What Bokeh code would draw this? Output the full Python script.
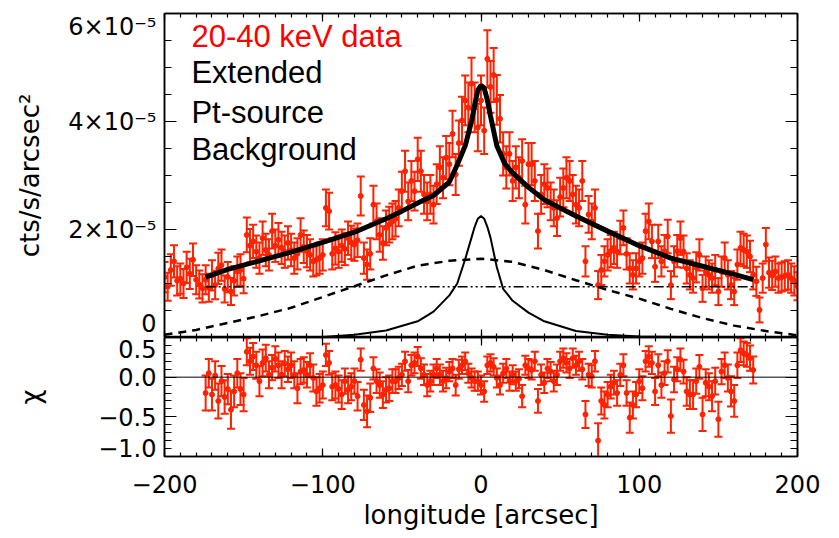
from bokeh.plotting import figure
from bokeh.models import (Range1d, LinearAxis, SingleIntervalTicker, FixedTicker,
                          ColumnDataSource, Whisker, TeeHead, Span, Label,
                          CustomLabelingPolicy)
from bokeh.layouts import column
from bokeh.embed import file_html
from bokeh.resources import INLINE

# ---------------- data ----------------
# longitude bins [arcsec]
lon = list(range(-200, 201, 2))
# surface brightness, units of 1e-5 cts/s/arcsec^2
flux = [1.12, 0.94, 1.25, 1.41, 1.05, 1.09, 1.00, 1.30, 1.18, 1.44,
        1.07, 0.98, 0.91, 1.07, 0.92, 1.15, 0.97, 1.28, 1.34, 0.90,
        1.12, 0.85, 1.05, 1.22, 1.25, 1.09, 1.90, 1.70, 1.78, 1.59,
        1.47, 1.84, 1.62, 1.53, 1.97, 1.70, 1.81, 1.66, 1.59, 1.75,
        1.62, 1.47, 1.55, 1.90, 1.68, 1.60, 1.53, 1.41, 1.44, 1.47,
        1.53, 2.40, 2.34, 1.55, 1.65, 1.59, 1.70, 1.64, 1.84, 1.76,
        1.72, 1.80, 2.62, 1.47, 1.35, 1.55, 2.46, 2.15, 1.90, 1.75,
        2.03, 2.09, 2.15, 2.20, 2.40, 2.71, 3.08, 2.52, 2.90, 2.71,
        3.30, 3.08, 2.65, 2.52, 2.65, 2.46, 2.84, 3.15, 2.96, 3.33,
        3.21, 3.77, 3.02, 3.60, 4.02, 4.39, 4.26, 4.70, 4.26, 3.89,
        4.39, 3.83, 5.16, 4.64, 4.86, 4.40, 4.05, 3.40, 3.15, 3.40,
        2.90, 3.15, 2.96, 3.27, 2.46, 3.21, 3.21, 2.90, 1.97, 2.65,
        2.84, 2.77, 2.52, 2.40, 2.21, 2.60, 2.77, 2.96, 2.90, 2.65,
        2.46, 2.40, 2.90, 1.41, 2.28, 2.15, 2.40, 0.97, 1.25, 1.41,
        1.53, 1.60, 1.66, 1.59, 1.85, 2.03, 1.55, 1.28, 1.16, 1.28,
        1.41, 1.47, 1.97, 2.15, 1.78, 1.31, 1.78, 1.41, 1.60, 1.87,
        0.97, 1.41, 1.60, 1.84, 1.59, 1.28, 1.16, 1.10, 1.30, 1.53,
        0.91, 1.22, 1.16, 1.10, 1.25, 0.85, 1.22, 1.47, 1.16, 0.97,
        0.85, 1.35, 1.66, 1.62, 1.59, 1.50, 1.16, 1.04, 0.51, 1.10,
        1.72, 1.20, 1.15, 1.22, 1.10, 1.12, 1.14, 1.16, 1.10, 1.05,
        0.95]
flux_err = [0.28, 0.26, 0.29, 0.30, 0.27, 0.28, 0.27, 0.29, 0.28, 0.30,
            0.27, 0.26, 0.26, 0.27, 0.26, 0.28, 0.26, 0.29, 0.29, 0.25,
            0.28, 0.25, 0.27, 0.28, 0.29, 0.27, 0.32, 0.31, 0.31, 0.30,
            0.29, 0.31, 0.30, 0.29, 0.32, 0.30, 0.31, 0.30, 0.30, 0.31,
            0.30, 0.29, 0.29, 0.31, 0.30, 0.30, 0.29, 0.28, 0.29, 0.29,
            0.29, 0.34, 0.34, 0.29, 0.30, 0.30, 0.30, 0.30, 0.31, 0.31,
            0.30, 0.31, 0.36, 0.29, 0.28, 0.29, 0.35, 0.33, 0.31, 0.31,
            0.32, 0.33, 0.33, 0.33, 0.34, 0.36, 0.38, 0.35, 0.37, 0.36,
            0.40, 0.38, 0.36, 0.35, 0.36, 0.35, 0.37, 0.39, 0.38, 0.40,
            0.39, 0.43, 0.38, 0.42, 0.44, 0.46, 0.46, 0.48, 0.46, 0.44,
            0.46, 0.43, 0.53, 0.48, 0.50, 0.46, 0.44, 0.40, 0.39, 0.40,
            0.37, 0.39, 0.38, 0.40, 0.35, 0.39, 0.39, 0.37, 0.32, 0.36,
            0.37, 0.36, 0.35, 0.34, 0.33, 0.36, 0.36, 0.38, 0.37, 0.36,
            0.35, 0.34, 0.37, 0.28, 0.34, 0.33, 0.34, 0.26, 0.28, 0.28,
            0.29, 0.30, 0.30, 0.30, 0.31, 0.32, 0.29, 0.28, 0.27, 0.28,
            0.28, 0.29, 0.32, 0.33, 0.31, 0.28, 0.31, 0.28, 0.30, 0.31,
            0.26, 0.28, 0.30, 0.31, 0.30, 0.28, 0.27, 0.27, 0.28, 0.29,
            0.25, 0.28, 0.27, 0.27, 0.28, 0.25, 0.28, 0.29, 0.27, 0.26,
            0.25, 0.28, 0.30, 0.30, 0.30, 0.29, 0.27, 0.27, 0.23, 0.27,
            0.31, 0.28, 0.27, 0.28, 0.27, 0.27, 0.27, 0.27, 0.27, 0.27,
            0.26]

# residuals (chi) within the fit range
res_lon = list(range(-174, 173, 2))
chi = [-0.20, 0.05, -0.22, 0.02, -0.30, -0.05, -0.25, -0.15, -0.41, -0.18,
       0.05, -0.15, -0.22, 0.32, 0.20, 0.26, 0.15, -0.05, 0.18, 0.24,
       0.03, 0.12, 0.23, 0.15, 0.03, 0.17, 0.10, 0.15, 0.03, -0.14,
       0.07, 0.09, 0.03, 0.15, -0.01, -0.18, -0.14, -0.10, 0.28, 0.18,
       -0.12, -0.10, -0.15, -0.22, -0.05, -0.16, -0.12, -0.05, -0.24, 0.22,
       -0.35, -0.43, -0.26, 0.11, -0.05, -0.10, -0.22, -0.16, -0.14, -0.05,
       -0.05, -0.01, 0.03, 0.20, -0.05, 0.15, 0.18, 0.26, 0.11, 0.03,
       -0.10, -0.05, 0.03, 0.11, 0.03, -0.05, -0.01, 0.07, 0.11, -0.10,
       0.10, 0.15, 0.20, 0.05, -0.01, -0.05, -0.05, -0.10, -0.18, 0.15,
       0.18, 0.13, -0.01, -0.10, 0.05, 0.11, -0.05, 0.03, -0.05, -0.02,
       -0.24, 0.15, 0.11, 0.09, 0.20, -0.30, 0.03, -0.07, 0.11, 0.07,
       -0.05, 0.03, 0.20, 0.24, 0.18, 0.11, 0.24, 0.15, 0.20, 0.10,
       -0.47, 0.03, 0.01, 0.20, -0.80, -0.30, -0.35, -0.22, -0.12, -0.07,
       -0.20, 0.03, 0.15, -0.20, -0.51, -0.35, -0.22, -0.05, -0.14, 0.20,
       0.26, 0.18, -0.18, 0.15, -0.10, 0.05, 0.20, -0.49, -0.03, 0.10,
       0.22, 0.07, -0.18, -0.22, -0.22, -0.05, 0.13, -0.47, -0.07, -0.12,
       -0.24, -0.05, -0.53, 0.07, 0.15, -0.01, -0.18, -0.30, 0.15, 0.34,
       0.30, 0.28, 0.24, 0.09]
chi_err = [0.22, 0.18, 0.20, 0.18, 0.22, 0.19, 0.21, 0.19, 0.24, 0.20,
           0.18, 0.20, 0.21, 0.17, 0.17, 0.17, 0.17, 0.19, 0.17, 0.17,
           0.17, 0.16, 0.16, 0.16, 0.17, 0.16, 0.16, 0.16, 0.17, 0.19,
           0.16, 0.16, 0.16, 0.15, 0.17, 0.18, 0.18, 0.17, 0.14, 0.15,
           0.17, 0.17, 0.17, 0.18, 0.16, 0.17, 0.17, 0.16, 0.18, 0.14,
           0.19, 0.20, 0.18, 0.14, 0.15, 0.16, 0.17, 0.16, 0.16, 0.15,
           0.15, 0.14, 0.14, 0.12, 0.14, 0.13, 0.13, 0.12, 0.13, 0.13,
           0.14, 0.13, 0.13, 0.12, 0.13, 0.13, 0.13, 0.12, 0.12, 0.13,
           0.12, 0.11, 0.11, 0.12, 0.12, 0.12, 0.12, 0.12, 0.13, 0.11,
           0.11, 0.11, 0.12, 0.12, 0.12, 0.12, 0.12, 0.12, 0.12, 0.12,
           0.14, 0.12, 0.12, 0.12, 0.12, 0.15, 0.13, 0.13, 0.12, 0.12,
           0.13, 0.13, 0.12, 0.12, 0.12, 0.12, 0.12, 0.12, 0.12, 0.13,
           0.17, 0.14, 0.14, 0.13, 0.22, 0.17, 0.17, 0.16, 0.15, 0.15,
           0.16, 0.14, 0.14, 0.16, 0.19, 0.17, 0.16, 0.15, 0.15, 0.13,
           0.13, 0.14, 0.17, 0.14, 0.16, 0.15, 0.14, 0.21, 0.16, 0.15,
           0.14, 0.15, 0.18, 0.18, 0.18, 0.16, 0.15, 0.21, 0.17, 0.17,
           0.19, 0.17, 0.22, 0.16, 0.16, 0.17, 0.19, 0.20, 0.16, 0.15,
           0.15, 0.15, 0.16, 0.17]

# model components (units of 1e-5 cts/s/arcsec^2)
total_lon = [-174, -160, -140, -120, -100, -80, -60, -50, -40, -30, -20, -15, -10,
             -6, -4, -2, 0, 2, 4, 6, 10, 15, 20, 30, 40, 50, 60, 80, 100, 120,
             140, 160, 172]
total = [1.12, 1.26, 1.42, 1.58, 1.76, 1.95, 2.20, 2.34, 2.49, 2.63, 2.88, 3.20, 3.55,
         4.00, 4.30, 4.58, 4.67, 4.62, 4.40, 4.10, 3.55, 3.22, 3.05, 2.78, 2.55,
         2.40, 2.25, 1.97, 1.70, 1.47, 1.32, 1.17, 1.07]
ext_lon = [-200, -180, -160, -140, -120, -100, -80, -60, -40, -20, 0, 20, 40, 60,
           80, 100, 120, 140, 160, 180, 200]
ext = [0.05, 0.14, 0.27, 0.40, 0.55, 0.75, 0.95, 1.15, 1.33, 1.42, 1.46, 1.40, 1.25,
       1.06, 0.88, 0.72, 0.53, 0.36, 0.22, 0.12, 0.04]
pt_lon = [-200, -150, -100, -80, -60, -40, -30, -20, -15, -10, -6, -4, -2, 0, 2, 4,
          6, 10, 14, 20, 30, 40, 60, 80, 100, 150, 200]
pt = [0.0, 0.0, 0.01, 0.05, 0.13, 0.30, 0.48, 0.78, 1.00, 1.45, 1.85, 2.05, 2.20,
      2.25, 2.20, 2.05, 1.85, 1.30, 0.90, 0.68, 0.46, 0.30, 0.12, 0.05, 0.02, 0.0, 0.0]
bkg_lon = [-174, 172]
bkg = [0.94, 0.94]

# tick labels
x_ticks = [-200, -100, 0, 100, 200]
x_tick_labels = ["\u2212200", "\u2212100", "0", "100", "200"]
flux_ticks = [0, 2, 4, 6]
flux_tick_labels = ["0", "2\u00d710\u207b\u2075", "4\u00d710\u207b\u2075", "6\u00d710\u207b\u2075"]
chi_ticks = [-1.0, -0.5, 0.0, 0.5]
chi_tick_labels = ["\u22121.0", "\u22120.5", "0.0", "0.5"]
legend_labels = ["20-40 keV data", "Extended", "Pt-source", "Background"]

# ---------------- style ----------------
RED = "#ff2200"
FONT = "DejaVu Sans"
W = 839
# where the original draws its end tick labels (nudged inside the frame)
flux_label_pos = [0.0, 2, 4, 5.75]
chi_label_pos = [-0.89, -0.5, 0.0, 0.35]

NO_LABELS = "for (const i of indices) { indices.unset(i) }"


def tick_axis(ax, tick_in, minor_in):
    """Axis that only draws the frame line and inward tick marks."""
    ax.axis_line_color = "black"
    ax.axis_line_width = 1.5
    ax.major_tick_in = tick_in
    ax.major_tick_out = 0
    ax.minor_tick_in = minor_in
    ax.minor_tick_out = 0
    ax.major_tick_line_color = "black"
    ax.minor_tick_line_color = "black"
    ax.major_tick_line_width = 1.2
    ax.minor_tick_line_width = 1.2
    ax.major_label_text_color = None
    ax.major_label_text_font_size = "1px"
    ax.major_label_standoff = 0
    ax.major_label_policy = CustomLabelingPolicy(code=NO_LABELS)


def label_axis(ticks, labels, axis_label, standoff):
    """Axis that only draws the tick labels (no line, no marks)."""
    ax = LinearAxis(ticker=FixedTicker(ticks=ticks),
                    major_label_overrides={t: l for t, l in zip(ticks, labels)})
    ax.axis_line_color = None
    ax.major_tick_line_color = None
    ax.minor_tick_line_color = None
    ax.major_tick_in = 0
    ax.major_tick_out = 0
    ax.minor_tick_in = 0
    ax.minor_tick_out = 0
    ax.major_label_standoff = 8
    ax.major_label_text_font = FONT
    ax.major_label_text_font_size = "24px"
    ax.major_label_text_color = "black"
    ax.axis_label = axis_label
    ax.axis_label_text_font = FONT
    ax.axis_label_text_font_size = "26px"
    ax.axis_label_text_font_style = "normal"
    ax.axis_label_text_color = "black"
    ax.axis_label_standoff = standoff
    return ax


x_range = Range1d(-200, 200)
xt = SingleIntervalTicker(interval=100, num_minor_ticks=10)
yt = SingleIntervalTicker(interval=2, num_minor_ticks=4)
ct = SingleIntervalTicker(interval=0.5, num_minor_ticks=5)

# ---------------- top panel ----------------
top = figure(width=W, height=337, x_range=x_range, y_range=Range1d(0, 6),
             output_backend="svg", toolbar_location=None,
             min_border_left=164, min_border_right=42, min_border_top=13,
             min_border_bottom=0, background_fill_color="white",
             border_fill_color="white")
top.grid.visible = False
top.outline_line_color = "black"
top.outline_line_width = 1.5

top.xaxis.ticker = xt
tick_axis(top.xaxis[0], 8, 4)
top.yaxis.ticker = yt
tick_axis(top.yaxis[0], 12, 7)
top.add_layout(label_axis(flux_label_pos, flux_tick_labels, "cts/s/arcsec\u00b2", 20), "left")

ax_r = LinearAxis(ticker=yt)
tick_axis(ax_r, 12, 7)
top.add_layout(ax_r, "right")
ax_t = LinearAxis(ticker=xt)
tick_axis(ax_t, 8, 4)
top.add_layout(ax_t, "above")

src = ColumnDataSource(dict(x=lon, y=flux,
                            lo=[f - e for f, e in zip(flux, flux_err)],
                            up=[f + e for f, e in zip(flux, flux_err)]))
top.add_layout(Whisker(source=src, base="x", lower="lo", upper="up",
                       line_color=RED, line_width=2,
                       lower_head=TeeHead(size=8, line_color=RED, line_width=2),
                       upper_head=TeeHead(size=8, line_color=RED, line_width=2)))
top.scatter("x", "y", source=src, size=5, color=RED)

top.line(ext_lon, ext, line_color="black", line_width=2.5, line_dash="8 6")
top.line(pt_lon, pt, line_color="black", line_width=2)
top.line(bkg_lon, bkg, line_color="black", line_width=1.6,
         line_dash="10 3 2 3 2 3 2 3")
top.line(total_lon, total, line_color="black", line_width=5)

leg_y = [5.57, 4.90, 4.16, 3.48]
leg_col = ["#ff0000", "black", "black", "black"]
for t, yv, c in zip(legend_labels, leg_y, leg_col):
    top.add_layout(Label(x=-183, y=yv, text=t, text_color=c,
                         text_font="Liberation Sans", text_font_size="31px",
                         text_baseline="alphabetic", text_align="left"))

# ---------------- residual panel ----------------
bot = figure(width=W, height=201, x_range=x_range, y_range=Range1d(-1.0, 0.5),
             output_backend="svg", toolbar_location=None,
             min_border_left=164, min_border_right=42, min_border_top=0,
             min_border_bottom=82, background_fill_color="white",
             border_fill_color="white")
bot.grid.visible = False
bot.outline_line_color = "black"
bot.outline_line_width = 1.5

bot.xaxis.ticker = xt
xa = bot.xaxis[0]
xa.axis_line_color = "black"
xa.axis_line_width = 1.5
xa.major_tick_in = 8
xa.major_tick_out = 0
xa.minor_tick_in = 4
xa.minor_tick_out = 0
xa.major_tick_line_color = "black"
xa.minor_tick_line_color = "black"
xa.major_tick_line_width = 1.2
xa.minor_tick_line_width = 1.2
xa.major_label_text_font = FONT
xa.major_label_text_font_size = "24px"
xa.major_label_text_color = "black"
xa.major_label_overrides = {t: l for t, l in zip(x_ticks, x_tick_labels)}
xa.major_label_standoff = 18
xa.axis_label = "longitude [arcsec]"
xa.axis_label_text_font = FONT
xa.axis_label_text_font_size = "26px"
xa.axis_label_text_font_style = "normal"
xa.axis_label_text_color = "black"
xa.axis_label_standoff = 4

bot.yaxis.ticker = ct
tick_axis(bot.yaxis[0], 12, 7)
bot.add_layout(label_axis(chi_label_pos, chi_tick_labels, "\u03c7", 49), "left")

bx_r = LinearAxis(ticker=ct)
tick_axis(bx_r, 12, 7)
bot.add_layout(bx_r, "right")
bx_t = LinearAxis(ticker=xt)
tick_axis(bx_t, 8, 4)
bot.add_layout(bx_t, "above")

bot.add_layout(Span(location=0, dimension="width", line_color="black", line_width=1))

rsrc = ColumnDataSource(dict(x=res_lon, y=chi,
                             lo=[c - e for c, e in zip(chi, chi_err)],
                             up=[c + e for c, e in zip(chi, chi_err)]))
bot.add_layout(Whisker(source=rsrc, base="x", lower="lo", upper="up",
                       line_color=RED, line_width=2,
                       lower_head=TeeHead(size=8, line_color=RED, line_width=2),
                       upper_head=TeeHead(size=8, line_color=RED, line_width=2)))
bot.scatter("x", "y", source=rsrc, size=5, color=RED)

layout = column(top, bot, spacing=0)
open("out.html", "w").write(file_html(layout, INLINE))
